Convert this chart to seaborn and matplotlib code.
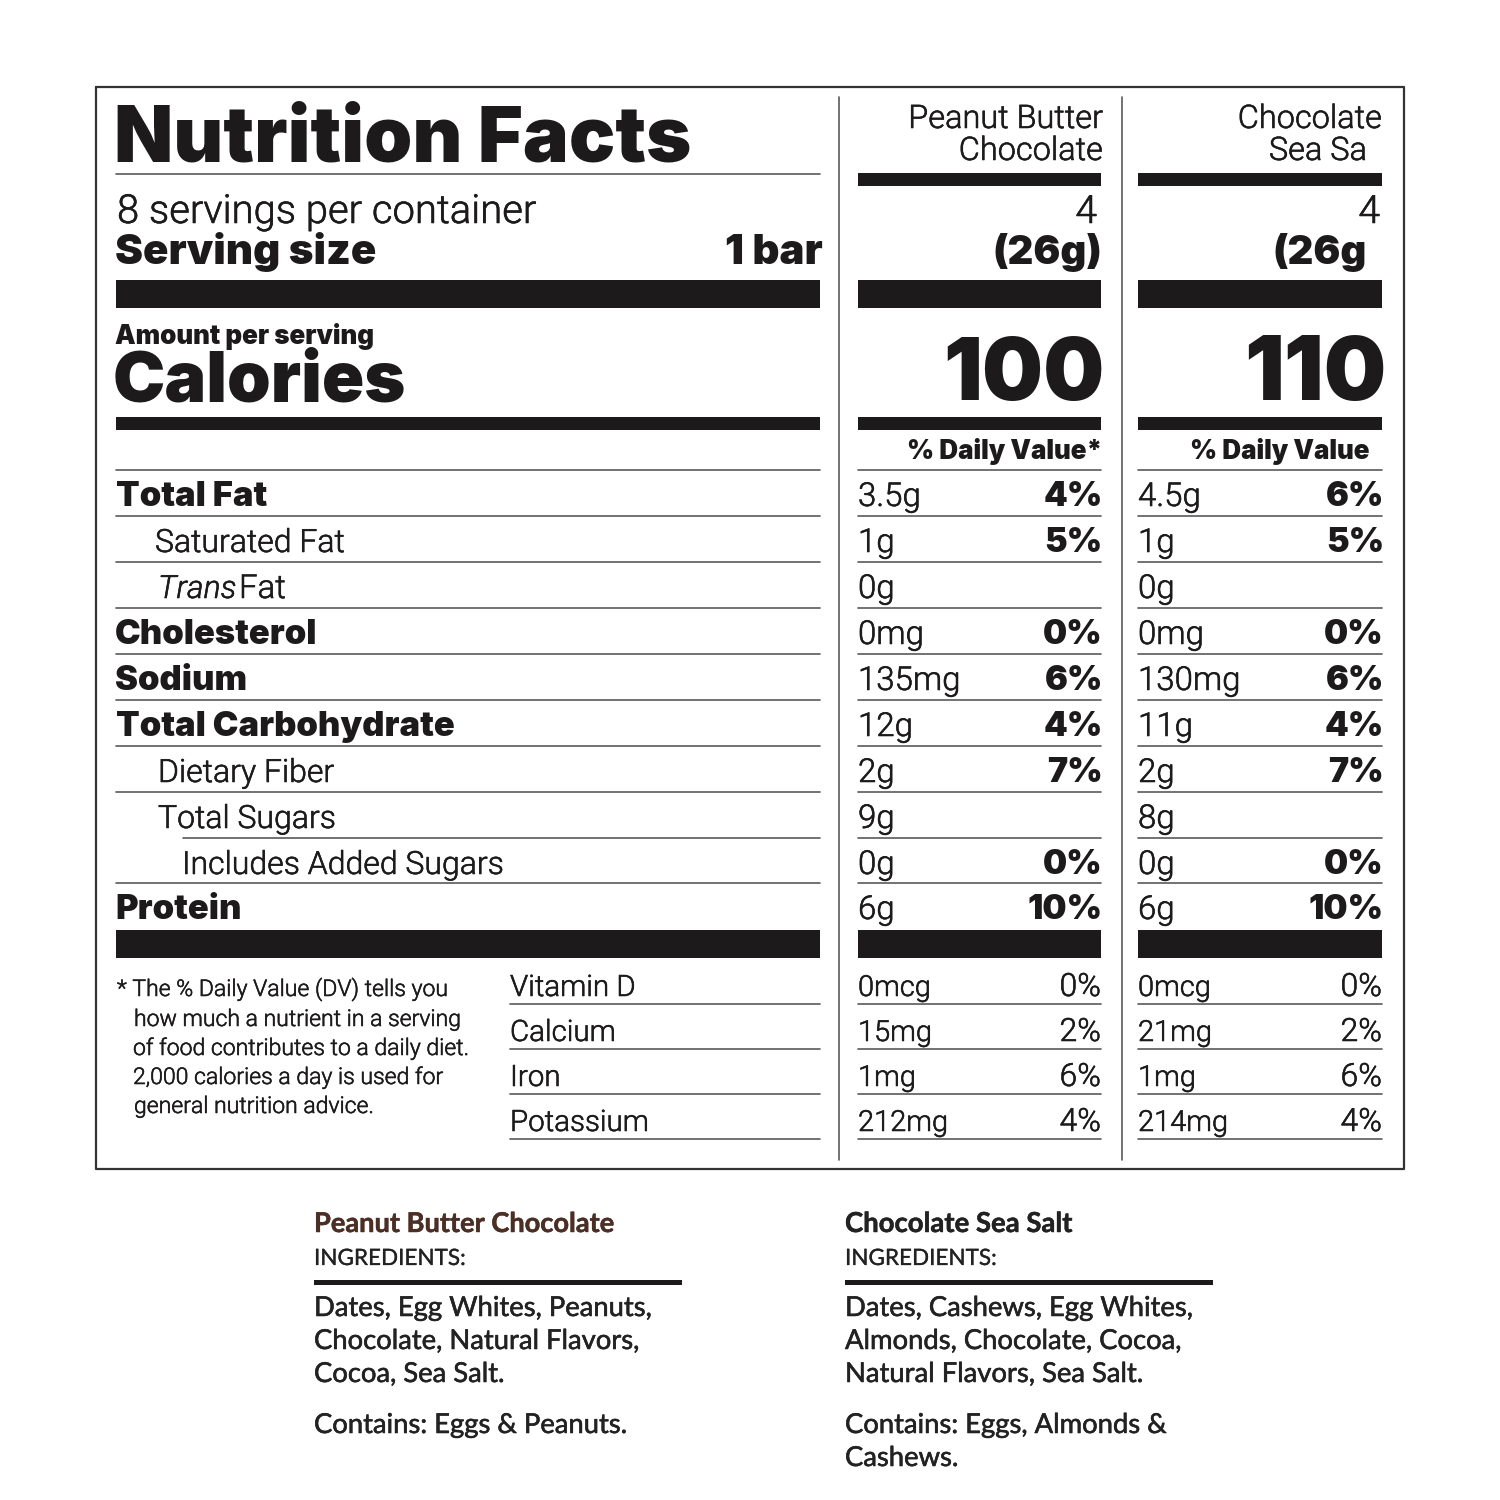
import pandas as pd
import matplotlib
matplotlib.use("Agg")
from matplotlib import pyplot as plt
import matplotlib.patheffects as pe
import seaborn as sns

# values from the label
nutrients = ["Total Fat", "Saturated Fat", "Trans Fat", "Cholesterol", "Sodium", "Total Carbohydrate",
             "Dietary Fiber", "Total Sugars", "Includes Added Sugars", "Protein"]
pb_amounts = ["3.5g", "1g", "0g", "0mg", "135mg", "12g", "2g", "9g", "0g", "6g"]
pb_dv = ["4%", "5%", "", "0%", "6%", "4%", "7%", "", "0%", "10%"]
ss_amounts = ["4.5g", "1g", "0g", "0mg", "130mg", "11g", "2g", "8g", "0g", "6g"]
ss_dv = ["6%", "5%", "", "0%", "6%", "4%", "7%", "", "0%", "10%"]

vitamins = ["Vitamin D", "Calcium", "Iron", "Potassium"]
pb_vit_amounts = ["0mcg", "15mg", "1mg", "212mg"]
pb_vit_dv = ["0%", "2%", "6%", "4%"]
ss_vit_amounts = ["0mcg", "21mg", "1mg", "214mg"]
ss_vit_dv = ["0%", "2%", "6%", "4%"]

footnote = ["* The % Daily Value (DV) tells you", "how much a nutrient in a serving",
            "of food contributes to a daily diet.", "2,000 calories a day is used for",
            "general nutrition advice."]
pb_ingredients = ["Dates, Egg Whites, Peanuts,", "Chocolate, Natural Flavors,", "Cocoa, Sea Salt."]
ss_ingredients = ["Dates, Cashews, Egg Whites,", "Almonds, Chocolate, Cocoa,", "Natural Flavors, Sea Salt."]
ss_contains = ["Contains: Eggs, Almonds &", "Cashews."]

# layout, in pixels of the 1500 square
row_lines = [516, 562, 608, 654, 700, 746, 792, 838, 883]
row_base = [506, 552, 598, 644, 690, 736, 782, 828, 874, 919]
row_indent = [116, 155, 158, 115, 115, 116, 158, 158, 182, 115]
bold_rows = [0, 3, 4, 5, 9]
vit_lines = [1004, 1049, 1094, 1139]
vit_base = [996, 1041, 1086, 1131]
foot_base = [996, 1026, 1055, 1084, 1113]
foot_x = [117, 134, 133, 133, 134]
columns = [(858, 1101), (1138, 1382)]
INK = "#1c1a1b"
RULE = "#5a5a5a"

sns.set_theme(style="white")
plt.rcParams["font.family"] = ["Roboto", "DejaVu Sans"]

fig, ax = plt.subplots(figsize=(15, 15), dpi=100)
fig.subplots_adjust(0, 0, 1, 1)


def soft(t, width=0.35):
    # thickens lighter faces a little, the scan has ink spread
    t.set_path_effects([pe.withStroke(linewidth=width, foreground=t.get_color())])
    return t


def put(x, y, s, px, ha="left", heavy=False, color=INK, **kw):
    # px is the em size in image pixels, y is the baseline
    if heavy:
        kw["family"] = "Inter"
        kw["fontweight"] = 900
    elif "family" not in kw:
        kw["fontweight"] = 300
    t = ax.text(x, y, s, fontsize=px * 0.72, ha=ha, va="baseline", color=color, **kw)
    if not heavy and kw.get("family") != "Lato":
        soft(t, 0.4)
    return t


def bar(x0, x1, y0, y1):
    ax.fill_between([x0, x1], y0, y1, color=INK, linewidth=0)


# thin rules go through seaborn as one long table
rules = [(116, 820, 174), (116, 820, 470), (116, 820, 516), (116, 820, 562), (116, 820, 608), (116, 820, 654),
         (116, 820, 700), (116, 820, 746), (116, 820, 792), (183, 820, 838), (116, 820, 883)]
rules += [(510, 820, y) for y in vit_lines]
for c0, c1 in columns:
    rules += [(c0, c1, y) for y in [470] + row_lines + vit_lines]
rows = []
for i, (x0, x1, y) in enumerate(rules):
    rows.append({"x": x0, "y": y, "rule": i})
    rows.append({"x": x1, "y": y, "rule": i})
sns.lineplot(data=pd.DataFrame(rows), x="x", y="y", units="rule", estimator=None, color=RULE,
             linewidth=1.2, legend=False, ax=ax)

# black bands
for y0, y1 in [(280, 308), (417, 430), (930, 958)]:
    bar(116, 820, y0, y1)
    for c0, c1 in columns:
        bar(c0, c1, y0, y1)
for c0, c1 in columns:
    bar(c0, c1, 173, 186)
bar(314, 682, 1280, 1285)
bar(845, 1213, 1280, 1285)

# frame and column dividers
ax.plot([96, 1404, 1404, 96, 96], [87, 87, 1169, 1169, 87], color="#333333", lw=1.6)
ax.plot([839, 839], [97, 1160], color=RULE, lw=1.2)
ax.plot([1122, 1122], [97, 1160], color=RULE, lw=1.2)

# header
put(114, 161, "Nutrition Facts", 77, heavy=True)
put(117, 223, "8 servings per container", 40)
put(115, 264, "Serving size", 42, heavy=True)
put(823, 264, "1 bar", 42, ha="right", heavy=True)
put(115, 344, "Amount per serving", 26, heavy=True)
put(113, 401, "Calories", 70, heavy=True)

put(1103, 128, "Peanut Butter", 32.5, ha="right")
put(1103, 160, "Chocolate", 32.5, ha="right")
put(1382, 128, "Chocolate", 32.5, ha="right")
put(1367, 160, "Sea Sa", 32.5, ha="right")
put(1097, 223, "4", 39, ha="right")
put(1380, 223, "4", 39, ha="right")
put(1102, 264, "(26g)", 40, ha="right", heavy=True)
put(1367, 264, "(26g", 40, ha="right", heavy=True)
put(1105, 400, "100", 86, ha="right", heavy=True)
put(1386, 400, "110", 88, ha="right", heavy=True)
put(1102, 459, "% Daily Value*", 26, ha="right", heavy=True)
put(1369, 459, "% Daily Value", 26, ha="right", heavy=True)

# nutrient rows
for i, name in enumerate(nutrients):
    if name == "Trans Fat":
        put(row_indent[i], row_base[i], "Trans", 32, style="italic")
        put(row_indent[i] + 81, row_base[i], "Fat", 33)
    elif i in bold_rows:
        put(row_indent[i], row_base[i], name, 34.5, heavy=True)
    else:
        put(row_indent[i], row_base[i], name, 32)
    for (c0, c1), amt, dv in zip(columns, [pb_amounts, ss_amounts], [pb_dv, ss_dv]):
        put(c0, row_base[i], amt[i], 33)
        put(c1 + 2, row_base[i], dv[i], 34, ha="right", heavy=True)

# footnote and vitamins
for x, y, line in zip(foot_x, foot_base, footnote):
    put(x, y, line, 23)
for i, name in enumerate(vitamins):
    put(510, vit_base[i], name, 29.5)
    for (c0, c1), amt, dv in zip(columns, [pb_vit_amounts, ss_vit_amounts], [pb_vit_dv, ss_vit_dv]):
        put(c0, vit_base[i], amt[i], 29)
        put(c1, vit_base[i], dv[i], 32, ha="right")

# ingredients panels
DARK = "#222222"
soft(put(314, 1232, "Peanut Butter Chocolate", 27.2, color="#4b2f25", family="Lato", fontweight="bold"))
soft(put(845, 1232, "Chocolate Sea Salt", 27.5, color=DARK, family="Lato", fontweight="bold"))
soft(put(314, 1265, "INGREDIENTS:", 22.5, color=DARK, family="Lato"), 0.2)
soft(put(845, 1265, "INGREDIENTS:", 22.5, color=DARK, family="Lato"), 0.2)
for x, lines in [(314, pb_ingredients), (845, ss_ingredients)]:
    for y, line in zip([1316, 1349, 1382], lines):
        soft(put(x, y, line, 27.4, color=DARK, family="Lato"), 0.4)
soft(put(314, 1433, "Contains: Eggs & Peanuts.", 27.4, color=DARK, family="Lato"), 0.4)
for y, line in zip([1433, 1466], ss_contains):
    soft(put(845, y, line, 27.4, color=DARK, family="Lato"), 0.4)

ax.set_xlim(0, 1500)
ax.set_ylim(1500, 0)
ax.set_axis_off()
sns.despine(ax=ax, left=True, bottom=True)
fig.savefig("out.png", dpi=100, facecolor="white")
